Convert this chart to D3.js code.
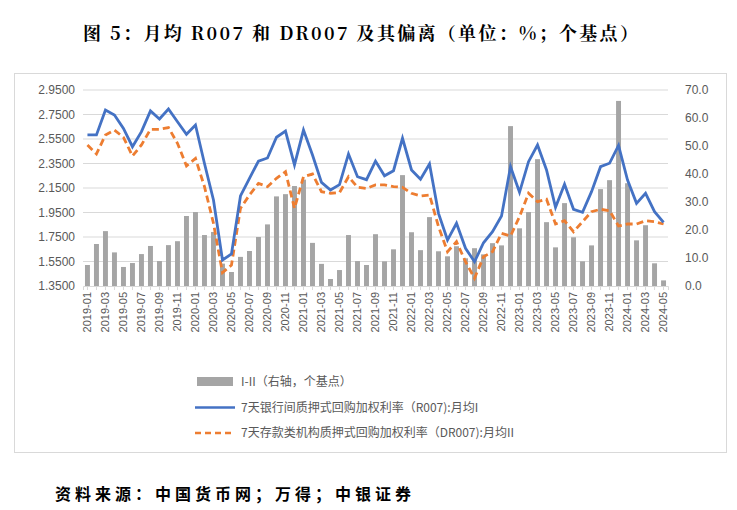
<!DOCTYPE html>
<html><head><meta charset="utf-8">
<script src="https://cdn.jsdelivr.net/npm/d3@7"></script>
<style>body{margin:0;background:#fff;font-family:"Noto Sans CJK SC",sans-serif}</style>
</head><body>
<svg id="c" width="737" height="510"></svg>
<script>
// monthly data, 2019-01 .. 2024-05
var months = [];
for (var y = 2019; y <= 2024; y++) for (var m = 1; m <= 12; m++) {
  if (y === 2024 && m > 5) break;
  months.push(y + '-' + (m < 10 ? '0' + m : m));
}
var spread = [7.5,15,19.6,12,6.8,8.2,11.4,14.3,8.9,14.6,16,25,26.4,18.2,19.3,8,5,10.4,12.5,17.5,22,32,32.8,35.7,38,15.4,7.9,2.5,5.7,18.2,8.9,7.5,
  18.5,8.8,13.1,39.6,19.2,12.8,24.6,12.4,10.6,14.2,9.9,13.5,11.3,15.3,14.5,57.1,20.6,26.4,45.3,22.8,13.8,29.6,17.4,8.8,14.5,34.6,37.8,66.1,36.7,16.3,21.7,8.1,2.0];
var r007 = [2.583,2.583,2.787,2.746,2.637,2.487,2.61,2.779,2.713,2.795,2.691,2.588,2.664,2.35,2.052,1.562,1.611,2.085,2.229,2.37,2.395,2.564,2.615,2.338,2.623,2.419,2.196,2.134,2.177,2.428,2.242,2.218,
  2.37,2.25,2.291,2.556,2.297,2.221,2.346,1.943,1.725,1.862,1.658,1.548,1.703,1.793,1.921,2.324,2.115,2.365,2.501,2.297,1.992,2.18,1.976,1.952,2.12,2.324,2.352,2.498,2.215,2.025,2.107,1.957,1.87];
var dr007 = [2.501,2.428,2.583,2.623,2.564,2.411,2.501,2.629,2.629,2.643,2.515,2.33,2.392,2.161,1.862,1.459,1.521,1.984,2.093,2.188,2.161,2.229,2.283,1.984,2.242,2.264,2.12,2.107,2.112,2.242,2.156,2.147,
  2.175,2.175,2.161,2.156,2.107,2.085,2.093,1.835,1.63,1.712,1.548,1.413,1.589,1.63,1.78,1.758,1.916,2.107,2.038,2.058,1.856,1.883,1.793,1.875,1.957,1.976,1.965,1.84,1.856,1.856,1.883,1.875,1.856];
var leftTicks = [1.35,1.55,1.75,1.95,2.15,2.35,2.55,2.75,2.95];
var rightTicks = [0,10,20,30,40,50,60,70];
var legendLabels = ['I-II（右轴，个基点）','7天银行间质押式回购加权利率（R007):月均I','7天存款类机构质押式回购加权利率（DR007):月均II'];

var svg = d3.select('#c');
var axisFont = 'Liberation Sans, Arial, sans-serif';

svg.append('text').attr('x', 83).attr('y', 40)
  .style('font-family', '"Noto Serif CJK SC","Noto Sans CJK SC",serif').style('font-weight', 'bold').style('font-size', '18px')
  .style('letter-spacing', '2.3px')
  .text('图 5：月均 R007 和 DR007 及其偏离（单位：%；个基点）');
svg.append('text').attr('x', 55).attr('y', 500)
  .style('font-weight', 'bold').style('font-size', '16px').style('letter-spacing', '4px')
  .text('资料来源：中国货币网；万得；中银证券');

svg.append('rect').attr('x', 14.5).attr('y', 73.5).attr('width', 712).attr('height', 379)
  .attr('fill', 'none').attr('stroke', '#d9d9d9');

var x = d3.scaleBand().domain(months).range([83, 668]).paddingInner(0.45).paddingOuter(0.22);
var yL = d3.scaleLinear().domain([1.35, 2.95]).range([286, 90]);
var yR = d3.scaleLinear().domain([0, 70]).range([286, 90]);
var cx = function(i){ return x(months[i]) + x.bandwidth() / 2; };

svg.append('g').selectAll('line').data(leftTicks.slice(1)).join('line')
  .attr('x1', 83).attr('x2', 668).attr('y1', function(d){ return yL(d); }).attr('y2', function(d){ return yL(d); })
  .attr('stroke', '#d9d9d9');

svg.append('g').selectAll('rect').data(spread).join('rect')
  .attr('x', function(d, i){ return x(months[i]); }).attr('width', x.bandwidth())
  .attr('y', function(d){ return yR(d); }).attr('height', function(d){ return yR(0) - yR(d); })
  .attr('fill', '#a5a5a5');

svg.append('path').datum(dr007)
  .attr('d', d3.line().x(function(d, i){ return cx(i); }).y(function(d){ return yL(d); }))
  .attr('fill', 'none').attr('stroke', '#ed7d31').attr('stroke-width', 2.8).attr('stroke-dasharray', '7,4');
svg.append('path').datum(r007)
  .attr('d', d3.line().x(function(d, i){ return cx(i); }).y(function(d){ return yL(d); }))
  .attr('fill', 'none').attr('stroke', '#4472c4').attr('stroke-width', 2.8);

// bottom axis
var xa = svg.append('g').attr('transform', 'translate(0,286)')
  .call(d3.axisBottom(x).tickSize(4).tickFormat(function(d, i){ return i % 2 === 0 ? d : ''; }));
xa.select('.domain').attr('stroke', '#d9d9d9');
xa.selectAll('line').attr('stroke', '#d9d9d9');
xa.selectAll('text').attr('transform', 'rotate(-90)').attr('text-anchor', 'end')
  .attr('x', -6).attr('y', 0).attr('dy', '0.35em')
  .style('font-family', axisFont).style('font-size', '11px').attr('fill', '#595959');

var la = svg.append('g').attr('transform', 'translate(78,0)')
  .call(d3.axisLeft(yL).tickValues(leftTicks).tickSize(0).tickFormat(d3.format('.4f')));
la.select('.domain').remove();
la.selectAll('text').style('font-family', axisFont).style('font-size', '12px').attr('fill', '#595959');

var ra = svg.append('g').attr('transform', 'translate(682,0)')
  .call(d3.axisRight(yR).tickValues(rightTicks).tickSize(0).tickFormat(d3.format('.1f')));
ra.select('.domain').remove();
ra.selectAll('text').style('font-family', axisFont).style('font-size', '12px').attr('fill', '#595959');

// legend
var lg = svg.append('g').selectAll('g').data(legendLabels).join('g')
  .attr('transform', function(d, i){ return 'translate(195,' + (382 + i * 25.5) + ')'; });
lg.each(function(d, i){
  var g = d3.select(this);
  if (i === 0) g.append('rect').attr('x', 2).attr('y', -5).attr('width', 36).attr('height', 9).attr('fill', '#a5a5a5');
  else g.append('line').attr('x1', 0).attr('x2', 40).attr('y1', 0).attr('y2', 0)
    .attr('stroke', i === 1 ? '#4472c4' : '#ed7d31').attr('stroke-width', 2.5)
    .attr('stroke-dasharray', i === 2 ? '6,4' : null);
  g.append('text').attr('x', 46).attr('dy', '0.35em').style('font-size', '12px').attr('fill', '#595959').text(d);
});
</script>
</body></html>
